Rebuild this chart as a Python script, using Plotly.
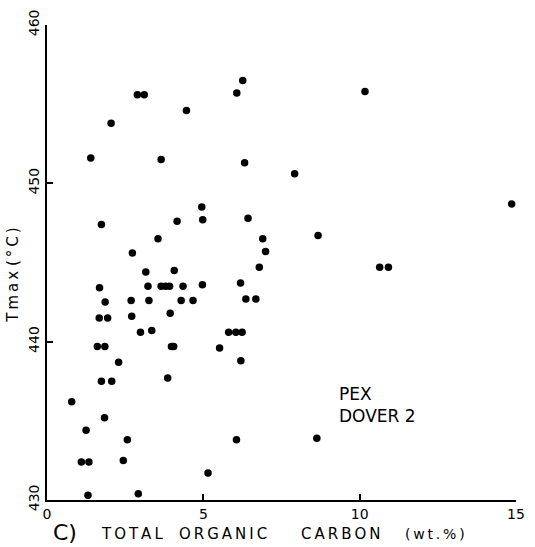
import plotly.graph_objects as go

# Total organic carbon (wt.%) and Tmax (°C) for PEX Dover 2 samples
toc = [
    6.26, 6.07, 2.89, 3.11, 4.46, 2.05, 1.40, 3.65, 6.32, 4.95,
    4.98, 1.74, 4.16, 6.43, 3.55, 2.73, 6.90, 6.99, 10.17, 7.92,
    8.67, 14.86, 3.16, 4.07, 1.68, 3.23, 3.65, 3.79, 3.92, 4.35,
    4.97, 6.79, 6.19, 1.86, 2.69, 3.26, 4.29, 4.67, 6.36, 6.68,
    1.67, 1.94, 2.71, 3.94, 2.99, 3.35, 5.81, 6.04, 6.24, 1.61,
    1.85, 3.98, 4.05, 5.52, 2.29, 6.20, 1.74, 2.07, 3.86, 0.79,
    1.84, 1.25, 2.57, 6.06, 1.10, 1.34, 2.44, 5.15, 1.31, 2.92,
    10.64, 10.92, 8.63,
]
tmax = [
    456.5, 455.7, 455.6, 455.6, 454.6, 453.8, 451.6, 451.5, 451.3, 448.5,
    447.7, 447.4, 447.6, 447.8, 446.5, 445.6, 446.5, 445.7, 455.8, 450.6,
    446.7, 448.7, 444.4, 444.5, 443.4, 443.5, 443.5, 443.5, 443.5, 443.5,
    443.6, 444.7, 443.7, 442.5, 442.6, 442.6, 442.6, 442.6, 442.7, 442.7,
    441.5, 441.5, 441.6, 441.8, 440.6, 440.7, 440.6, 440.6, 440.6, 439.7,
    439.7, 439.7, 439.7, 439.6, 438.7, 438.8, 437.5, 437.5, 437.7, 436.2,
    435.2, 434.4, 433.8, 433.8, 432.4, 432.4, 432.5, 431.7, 430.3, 430.4,
    444.7, 444.7, 433.9,
]

x_ticks = [0, 5, 10, 15]
y_ticks = [430, 440, 450, 460]

FONT = "DejaVu Sans"

fig = go.Figure(
    go.Scatter(
        x=toc,
        y=tmax,
        mode="markers",
        marker=dict(color="black", size=7.5),
        cliponaxis=False,
        showlegend=False,
    )
)

fig.update_layout(
    width=535,
    height=547,
    margin=dict(l=47, r=10, t=25, b=47),
    paper_bgcolor="white",
    plot_bgcolor="white",
    font=dict(family=FONT, color="black", size=15),
)

axis_style = dict(
    showline=True,
    linecolor="black",
    linewidth=2,
    ticks="inside",
    ticklen=6,
    tickwidth=1.5,
    tickcolor="black",
    showgrid=False,
    zeroline=False,
    tickfont=dict(family=FONT, size=14, color="black"),
)

fig.update_xaxes(
    range=[0, 15],
    tickvals=x_ticks,
    ticktext=[str(v) for v in x_ticks],
    **axis_style,
)
fig.update_yaxes(
    range=[430, 460],
    tickvals=y_ticks,
    ticktext=[str(v) for v in y_ticks],
    tickangle=-90,
    **axis_style,
)

def px_to_paper_x(px):
    return (px - 47) / 478.0

def px_to_paper_y(py):
    return (500 - py) / 475.0

# x-axis caption, word by word with widened letter spacing
sp = "\u2009"
words = [
    ("C)", 51, 22, 532),
    (sp.join("TOTAL"), 100, 15, 534),
    (sp.join("ORGANIC"), 180, 15, 534),
    (sp.join("CARBON"), 304, 15, 534),
    (sp.join("(wt.%)"), 410, 14, 534),
]
for text, px, size, py in words:
    fig.add_annotation(
        x=px_to_paper_x(px), y=px_to_paper_y(py),
        xref="paper", yref="paper",
        xanchor="left", yanchor="middle",
        text=text, showarrow=False,
        font=dict(family=FONT, size=size, color="black"),
    )

# y-axis caption
fig.add_annotation(
    x=px_to_paper_x(12), y=px_to_paper_y(275),
    xref="paper", yref="paper",
    xanchor="center", yanchor="middle",
    text=sp.join("Tmax") + " " + sp.join("(°C)"), textangle=-90, showarrow=False,
    font=dict(family=FONT, size=15, color="black"),
)

# well label
fig.add_annotation(
    x=9.29, y=436.0,
    xref="x", yref="y",
    xanchor="left", yanchor="middle",
    text="PEX<br>DOVER 2", align="left", showarrow=False,
    font=dict(family=FONT, size=17, color="black"),
)

fig.write_html("out.html")
